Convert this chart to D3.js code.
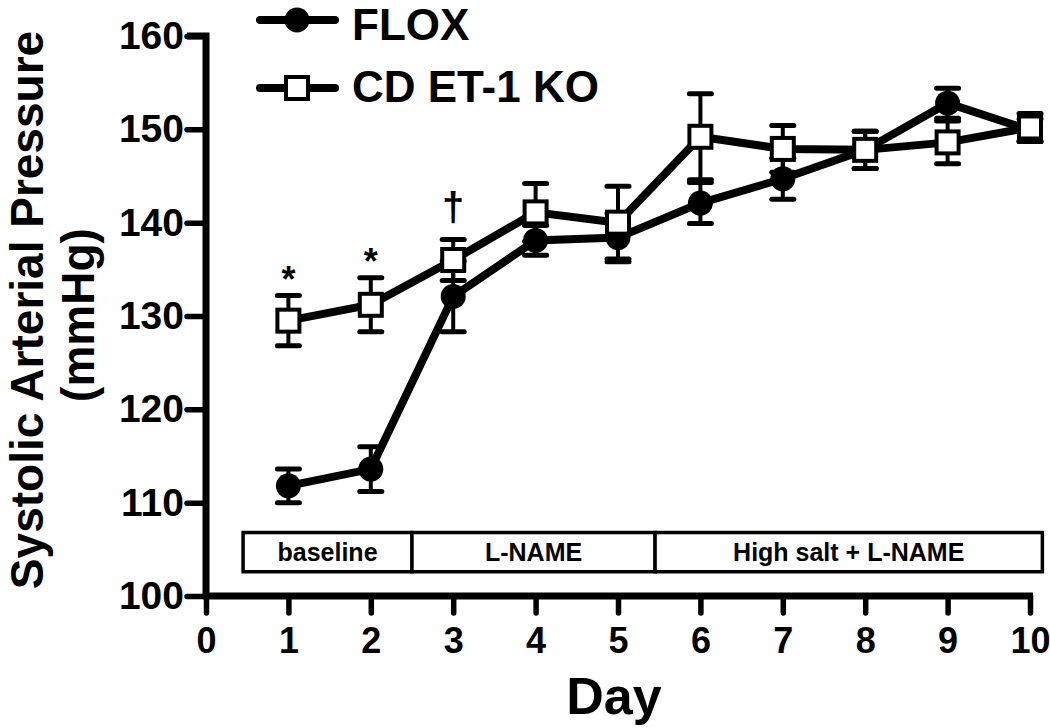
<!DOCTYPE html>
<html><head><meta charset="utf-8">
<script src="https://cdn.jsdelivr.net/npm/d3@7"></script>
<style>body{margin:0;background:#fff}svg{display:block}text{font-family:"Liberation Sans",Arial,sans-serif;font-weight:bold}</style>
</head><body>
<svg id="c" width="1050" height="728"></svg>
<script>
const days = [1,2,3,4,5,6,7,8,9,10];
const floxMean = [111.8,113.6,132.1,138.1,138.4,142.1,144.7,147.8,152.8,149.9];
const floxSem  = [1.8,2.4,3.8,1.6,2.6,2.2,2.2,2.0,1.6,1.2];
const koMean   = [129.5,131.2,136.0,141.1,140.0,149.2,147.9,147.8,148.6,150.2];
const koSem    = [2.7,2.9,2.2,3.1,3.9,4.6,2.5,2.0,2.3,1.5];
const yTicks = [100,110,120,130,140,150,160];
const xTicks = [0,1,2,3,4,5,6,7,8,9,10];
const phases = [{label:"baseline",from:0.45,to:2.5},{label:"L-NAME",from:2.5,to:5.45},{label:"High salt + L-NAME",from:5.45,to:10.15}];
const phaseBand = [102.6,106.8];
const marks = [{day:1,value:132.6,sym:"*"},{day:2,value:134.5,sym:"*"},{day:3,value:140.2,sym:"†"}];

const svg = d3.select("#c");
const x = d3.scaleLinear().domain([0,10]).range([206,1030]);
const y = d3.scaleLinear().domain([100,160]).range([596,36]);

// phase box
const pb = svg.append("g");
phases.forEach(p=>{
  pb.append("rect").attr("x",x(p.from)).attr("y",y(phaseBand[1])).attr("width",x(p.to)-x(p.from)).attr("height",y(phaseBand[0])-y(phaseBand[1]))
    .attr("fill","#fff").attr("stroke","#000").attr("stroke-width",3.5);
  pb.append("text").attr("x",(x(p.from)+x(p.to))/2).attr("y",(y(phaseBand[0])+y(phaseBand[1]))/2+9).attr("text-anchor","middle")
    .attr("font-size",25).text(p.label);
});

// axes
const yAxis = svg.append("g").attr("transform",`translate(${x(0)},0)`).call(d3.axisLeft(y).tickValues(yTicks).tickSize(19).tickPadding(3));
const xAxis = svg.append("g").attr("transform",`translate(0,${y(100)})`).call(d3.axisBottom(x).tickValues(xTicks).tickSize(17).tickPadding(14));
[yAxis,xAxis].forEach(a=>{
  a.select(".domain").attr("stroke-width",7).attr("stroke","#000");
  a.selectAll(".tick line").attr("stroke-width",5.5).attr("stroke","#000").attr("stroke-linecap","round");
  a.selectAll(".tick text").attr("fill","#000").attr("font-family","Liberation Sans, Arial").attr("font-weight","bold");
});
yAxis.selectAll(".tick text").attr("font-size",39);
xAxis.selectAll(".tick text").attr("font-size",36);
yAxis.select(".domain").attr("d",`M-19,${y(160)}H0V${y(100)+3}`);
xAxis.select(".domain").attr("d",`M${x(0)-3},0H${x(10)+3}`);

// axis titles
svg.append("text").attr("transform",`translate(${x(5)-4},714)`).attr("text-anchor","middle").attr("font-size",52).text("Day");
svg.append("text").attr("transform",`translate(42.5,310) rotate(-90)`).attr("text-anchor","middle").attr("font-size",46).text("Systolic Arterial Pressure");
svg.append("text").attr("transform",`translate(94,315) rotate(-90)`).attr("text-anchor","middle").attr("font-size",46).text("(mmHg)");

const series = [
  {name:"FLOX",mean:floxMean,sem:floxSem,shape:"circle"},
  {name:"CD ET-1 KO",mean:koMean,sem:koSem,shape:"square"}
];
const line = d3.line().x((d,i)=>x(days[i])).y(d=>y(d));
series.forEach(s=>{
  const g = svg.append("g");
  days.forEach((d,i)=>{
    const y0=y(s.mean[i]-s.sem[i]), y1=y(s.mean[i]+s.sem[i]);
    g.append("line").attr("x1",x(d)).attr("x2",x(d)).attr("y1",y0).attr("y2",y1).attr("stroke","#000").attr("stroke-width",4);
    [y0,y1].forEach(yy=>g.append("line").attr("x1",x(d)-11).attr("x2",x(d)+11).attr("y1",yy).attr("y2",yy).attr("stroke","#000").attr("stroke-width",5).attr("stroke-linecap","round"));
  });
});
series.forEach(s=>{
  svg.append("path").attr("d",line(s.mean)).attr("fill","none").attr("stroke","#000").attr("stroke-width",8);
});
function marker(g,cx,cy,shape){
  if(shape==="circle") g.append("circle").attr("cx",cx).attr("cy",cy).attr("r",12.5).attr("fill","#000");
  else g.append("rect").attr("x",cx-11).attr("y",cy-11).attr("width",22).attr("height",22).attr("fill","#fff").attr("stroke","#000").attr("stroke-width",4);
}
series.forEach(s=>{
  const g=svg.append("g");
  days.forEach((d,i)=>marker(g,x(d),y(s.mean[i]),s.shape));
});

// significance marks
marks.forEach(m=>{
  svg.append("text").attr("x",x(m.day)).attr("y",y(m.value)).attr("text-anchor","middle")
    .attr("font-size",m.sym==="*"?36:40).attr("font-weight","normal").text(m.sym);
});

// legend
const lg = svg.append("g");
series.forEach((s,i)=>{
  const ly = 20 + i*68;
  lg.append("line").attr("x1",260).attr("x2",335).attr("y1",ly).attr("y2",ly).attr("stroke","#000").attr("stroke-width",8).attr("stroke-linecap","round");
  marker(lg,297,ly,s.shape);
  lg.append("text").attr("x",352).attr("y",ly+(i===0?20:14)).attr("font-size",44).text(s.name);
});
</script>
</body></html>
